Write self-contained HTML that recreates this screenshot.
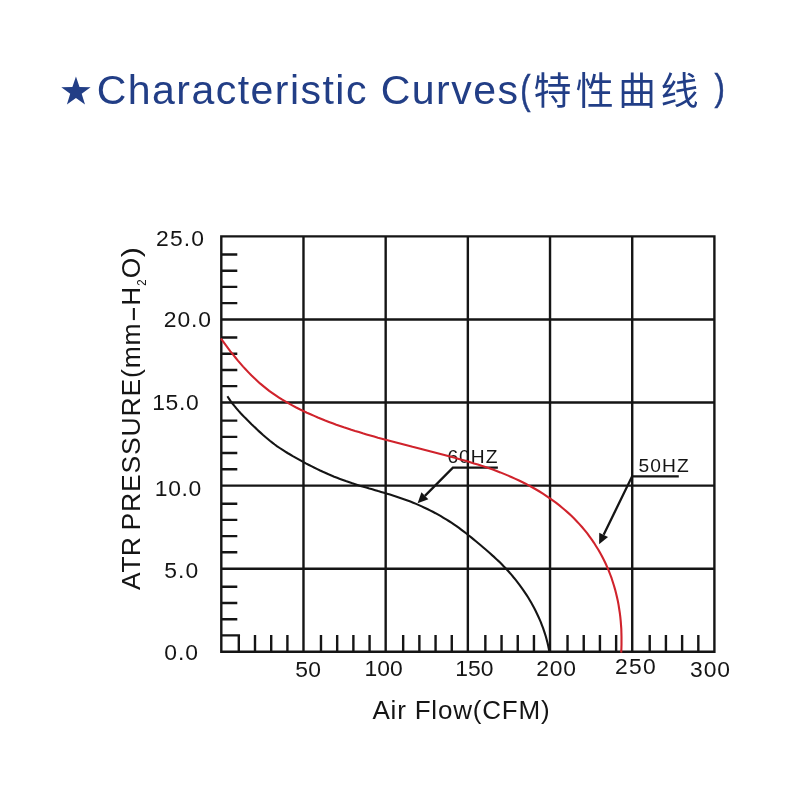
<!DOCTYPE html>
<html><head><meta charset="utf-8"><title>Characteristic Curves</title>
<style>
html,body{margin:0;padding:0;background:#fff;}
body{width:800px;height:800px;overflow:hidden;font-family:"Liberation Sans",sans-serif;}
svg{display:block;will-change:transform;font-family:"Liberation Sans",sans-serif;font-kerning:none;}
text{font-kerning:none;white-space:pre;}
</style></head><body>
<svg width="800" height="800" viewBox="0 0 800 800">
<rect width="800" height="800" fill="#ffffff"/>
<path d="M75.95,76.55L79.50,87.07L90.60,87.19L81.69,93.82L85.00,104.41L75.95,97.99L66.90,104.41L70.21,93.82L61.30,87.19L72.40,87.07Z" fill="#223e86"/>
<text x="96.67" y="103.9" font-size="41.0" letter-spacing="1.472" fill="#223e86">Characteristic Curves</text>
<text transform="translate(520.28,103.62) scale(0.7465,1)" font-size="41.43" fill="#223e86" stroke="#223e86" stroke-width="0.5">(</text>
<text transform="translate(714.57,100.17) scale(0.8224,1)" font-size="37.84" fill="#223e86" stroke="#223e86" stroke-width="0.5">)</text>
<text x="533.5" y="104" font-size="38" letter-spacing="4.3" fill="#223e86" style="font-family:'Liberation Sans','Noto Sans CJK SC',sans-serif;">特性曲线</text>
<text x="447.42" y="462.71" font-size="19.20" letter-spacing="1.042" fill="#151515">60HZ</text>
<text x="638.43" y="471.51" font-size="19.20" letter-spacing="1.140" fill="#151515">50HZ</text>
<path d="M221.30,235.20V652.75M303.48,235.20V652.75M385.67,235.20V652.75M467.85,235.20V652.75M550.03,235.20V652.75M632.22,235.20V652.75M714.40,235.20V652.75M220.10,236.40H715.60M220.10,319.47H715.60M220.10,402.54H715.60M220.10,485.61H715.60M220.10,568.68H715.60M220.10,651.75H715.60M221.30,254.50h16.00M221.30,270.70h16.00M221.30,286.90h16.00M221.30,303.10h16.00M221.30,337.57h16.00M221.30,353.77h16.00M221.30,369.97h16.00M221.30,386.17h16.00M221.30,420.64h16.00M221.30,436.84h16.00M221.30,453.04h16.00M221.30,469.24h16.00M221.30,503.71h16.00M221.30,519.91h16.00M221.30,536.11h16.00M221.30,552.31h16.00M221.30,586.78h16.00M221.30,602.98h16.00M221.30,619.18h16.00M221.30,635.38h18.74M238.80,651.75v-16.75M255.00,651.75v-16.75M271.20,651.75v-16.75M287.40,651.75v-16.75M320.98,651.75v-16.75M337.18,651.75v-16.75M353.38,651.75v-16.75M369.58,651.75v-16.75M403.17,651.75v-16.75M419.37,651.75v-16.75M435.57,651.75v-16.75M451.77,651.75v-16.75M485.35,651.75v-16.75M501.55,651.75v-16.75M517.75,651.75v-16.75M533.95,651.75v-16.75M567.53,651.75v-16.75M583.73,651.75v-16.75M599.93,651.75v-16.75M616.13,651.75v-16.75M649.72,651.75v-16.75M665.92,651.75v-16.75M682.12,651.75v-16.75M698.32,651.75v-16.75" fill="none" stroke="#151515" stroke-width="2.4"/>
<path d="M497.85,467.60H452.90L424.92,495.82" fill="none" stroke="#151515" stroke-width="2.3" stroke-linejoin="miter"/>
<path d="M417.60,503.20L421.44,492.36L428.40,499.27Z" fill="#151515"/>
<path d="M678.80,476.30H632.10L603.65,534.85" fill="none" stroke="#151515" stroke-width="2.3" stroke-linejoin="miter"/>
<path d="M599.10,544.20L599.24,532.70L608.05,536.99Z" fill="#151515"/>
<path d="M227.4,396.3 229.1,398.9 230.8,401.4 232.7,403.8 234.6,406.2 236.6,408.6 238.6,410.9 240.7,413.2 242.8,415.4 244.9,417.6 247.1,419.8 249.3,422.0 251.5,424.2 253.7,426.3 256.0,428.4 258.2,430.6 260.5,432.6 262.8,434.7 265.1,436.7 267.5,438.7 269.9,440.7 272.3,442.6 274.7,444.5 277.2,446.3 279.7,448.0 282.3,449.7 284.9,451.3 287.5,453.0 290.1,454.5 292.8,456.1 295.5,457.6 298.2,459.1 300.9,460.6 303.6,462.1 306.3,463.6 309.0,465.0 311.8,466.4 314.5,467.8 317.3,469.1 320.1,470.5 322.9,471.8 325.7,473.0 328.5,474.3 331.4,475.5 334.2,476.7 337.1,477.8 340.0,478.9 342.9,480.0 345.8,481.1 348.7,482.1 351.6,483.1 354.5,484.0 357.5,484.9 360.4,485.9 363.4,486.7 366.3,487.6 369.3,488.5 372.3,489.3 375.2,490.2 378.2,491.1 381.1,491.9 384.1,492.8 387.1,493.7 390.0,494.6 392.9,495.5 395.9,496.4 398.8,497.4 401.7,498.4 404.6,499.4 407.5,500.5 410.4,501.6 413.2,502.7 416.1,503.9 418.9,505.1 421.7,506.4 424.5,507.7 427.3,509.0 430.0,510.4 432.8,511.8 435.5,513.2 438.2,514.7 440.9,516.2 443.5,517.8 446.2,519.4 448.8,521.0 451.4,522.7 453.9,524.4 456.5,526.1 459.0,527.9 461.5,529.8 463.9,531.6 466.4,533.5 468.8,535.5 471.2,537.4 473.6,539.4 475.9,541.3 478.3,543.3 480.7,545.3 483.0,547.3 485.4,549.3 487.7,551.3 490.0,553.3 492.3,555.4 494.6,557.4 496.8,559.5 499.1,561.6 501.3,563.8 503.4,566.0 505.6,568.2 507.7,570.5 509.7,572.8 511.8,575.1 513.7,577.5 515.7,579.9 517.6,582.3 519.5,584.8 521.3,587.3 523.1,589.8 524.8,592.3 526.5,594.9 528.2,597.5 529.8,600.2 531.3,602.8 532.8,605.5 534.3,608.2 535.7,611.0 537.0,613.7 538.3,616.5 539.6,619.4 540.8,622.2 541.9,625.1 543.0,627.9 544.0,630.8 545.0,633.8 545.9,636.7 546.7,639.7 547.5,642.7 548.2,645.7 548.8,648.7 549.4,651.7" fill="none" stroke="#151515" stroke-width="2.1" stroke-linejoin="round"/>
<path d="M220.9,338.5 223.2,341.7 225.6,344.9 228.0,348.1 230.4,351.3 232.9,354.4 235.4,357.5 237.9,360.6 240.5,363.6 243.1,366.6 245.8,369.5 248.5,372.4 251.3,375.3 254.2,378.0 257.1,380.7 260.0,383.4 263.0,385.9 266.1,388.4 269.2,390.8 272.4,393.1 275.7,395.4 279.0,397.6 282.3,399.7 285.7,401.7 289.2,403.7 292.7,405.6 296.2,407.5 299.7,409.3 303.3,411.0 306.9,412.7 310.5,414.3 314.2,415.9 317.8,417.5 321.5,419.0 325.2,420.5 328.9,421.9 332.6,423.3 336.3,424.7 340.0,426.0 343.8,427.3 347.6,428.5 351.3,429.8 355.1,431.0 358.9,432.1 362.7,433.3 366.5,434.4 370.3,435.5 374.1,436.6 377.9,437.7 381.8,438.7 385.6,439.8 389.4,440.8 393.3,441.8 397.1,442.8 401.0,443.8 404.8,444.8 408.7,445.8 412.5,446.8 416.4,447.7 420.3,448.7 424.1,449.7 428.0,450.7 431.8,451.7 435.7,452.7 439.5,453.7 443.4,454.7 447.2,455.7 451.1,456.7 454.9,457.8 458.8,458.9 462.6,459.9 466.4,461.1 470.2,462.2 474.0,463.4 477.8,464.5 481.6,465.8 485.4,467.0 489.1,468.3 492.9,469.6 496.6,471.0 500.3,472.4 504.0,473.9 507.6,475.4 511.3,477.0 514.9,478.6 518.5,480.2 522.1,482.0 525.6,483.7 529.1,485.6 532.6,487.5 536.1,489.5 539.5,491.5 542.9,493.6 546.2,495.8 549.5,498.1 552.7,500.4 555.9,502.7 559.1,505.2 562.2,507.7 565.2,510.2 568.2,512.9 571.1,515.6 573.9,518.3 576.7,521.2 579.4,524.1 582.0,527.0 584.6,530.1 587.1,533.2 589.4,536.3 591.8,539.6 594.0,542.8 596.1,546.2 598.2,549.5 600.2,553.0 602.1,556.5 603.9,560.0 605.6,563.5 607.2,567.2 608.8,570.8 610.2,574.5 611.6,578.2 612.8,582.0 614.0,585.8 615.1,589.6 616.1,593.4 617.0,597.3 617.9,601.2 618.6,605.1 619.2,609.0 619.8,612.9 620.3,616.9 620.7,620.8 621.0,624.8 621.3,628.8 621.4,632.7 621.5,636.7 621.5,640.7 621.5,644.7 621.4,648.6 621.2,652.6" fill="none" stroke="#d0232c" stroke-width="2.1" stroke-linejoin="round"/>
<text transform="translate(156.05,246.29) scale(1.0400,1)" font-size="22.00" letter-spacing="1.126" fill="#151515">25.0</text>
<text transform="translate(163.85,327.49) scale(1.0400,1)" font-size="22.00" letter-spacing="0.870" fill="#151515">20.0</text>
<text transform="translate(152.16,410.09) scale(1.0400,1)" font-size="22.00" letter-spacing="0.643" fill="#151515">15.0</text>
<text transform="translate(154.76,495.89) scale(1.0400,1)" font-size="22.00" letter-spacing="0.643" fill="#151515">10.0</text>
<text transform="translate(164.28,578.09) scale(1.0400,1)" font-size="22.00" letter-spacing="1.011" fill="#151515">5.0</text>
<text transform="translate(164.31,660.29) scale(1.0400,1)" font-size="22.00" letter-spacing="0.856" fill="#151515">0.0</text>
<text transform="translate(295.33,677.29) scale(1.0400,1)" font-size="22.00" letter-spacing="0.106" fill="#151515">50</text>
<text transform="translate(364.51,675.69) scale(1.0400,1)" font-size="22.00" letter-spacing="-0.018" fill="#151515">100</text>
<text transform="translate(455.26,675.99) scale(1.0400,1)" font-size="22.00" letter-spacing="-0.018" fill="#151515">150</text>
<text transform="translate(536.35,675.99) scale(1.0400,1)" font-size="22.00" letter-spacing="0.659" fill="#151515">200</text>
<text transform="translate(615.10,673.84) scale(1.0400,1)" font-size="22.00" letter-spacing="1.164" fill="#151515">250</text>
<text transform="translate(689.93,677.29) scale(1.0400,1)" font-size="22.00" letter-spacing="0.957" fill="#151515">300</text>
<text x="372.45" y="718.90" font-size="26.00" letter-spacing="0.803" fill="#151515">Air Flow(CFM)</text>
<text transform="translate(140.20,590.05) rotate(-90) scale(1.0000,1)" font-size="26.50" letter-spacing="-0.059" fill="#151515">ATR</text>
<text transform="translate(140.20,530.47) rotate(-90) scale(1.0000,1)" font-size="26.50" letter-spacing="0.836" fill="#151515">PRESSURE(mm</text>
<path d="M133.85,320.1V308.0" stroke="#151515" stroke-width="2.1" fill="none"/>
<text transform="translate(140.20,305.60) rotate(-90) scale(0.9660,1)" font-size="26.50" letter-spacing="0.000" fill="#151515">H</text>
<text transform="translate(146.00,285.87) rotate(-90) scale(0.8647,1)" font-size="13.20" letter-spacing="0.000" fill="#151515">2</text>
<text transform="translate(140.20,278.24) rotate(-90) scale(0.9895,1)" font-size="26.50" letter-spacing="0.000" fill="#151515">O</text>
<text transform="translate(140.20,257.18) rotate(-90) scale(1.1981,1)" font-size="25.50" letter-spacing="0.000" fill="#151515">)</text>
</svg></body></html>
